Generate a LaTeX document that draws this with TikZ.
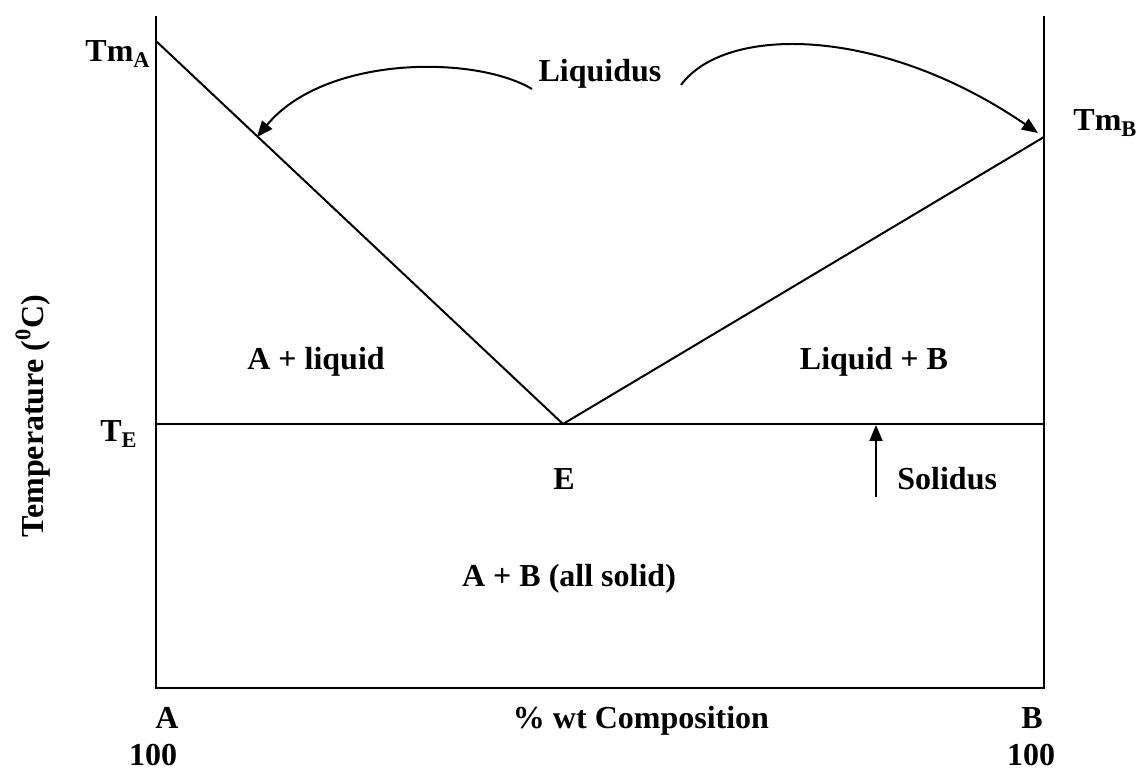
\documentclass[tikz,border=0pt]{standalone}
\usepackage{fontspec}
\setmainfont{Liberation Serif}
\usetikzlibrary{arrows.meta}
\begin{document}
\begin{tikzpicture}[x=0.5pt,y=-0.5pt,
  axisline/.style={line width=1pt},
  phaseline/.style={line width=1pt},
  pointer/.style={line width=1pt,-{Triangle[length=8pt,width=6.5pt]}},
  lbl/.style={inner sep=0pt,font=\fontsize{16}{19}\selectfont\bfseries}]
\useasboundingbox (0,0) rectangle (1137,770);
% frame corners
\coordinate (TL) at (156,16);
\coordinate (BL) at (156,688);
\coordinate (BR) at (1044,688);
\coordinate (TR) at (1044,16);
\coordinate (TmA) at (156,41);
\coordinate (TmB) at (1044,137);
\coordinate (Eu) at (563,424);
\coordinate (TEl) at (156,424);
\coordinate (TEr) at (1044,424);
% axes
\draw[axisline] (TL) -- (BL) -- (BR) -- (TR);
% liquidus and solidus lines
\draw[phaseline] (TmA) -- (Eu) -- (TmB);
\draw[phaseline] (TEl) -- (TEr);
% labels
\node[lbl,anchor=base east] (lTmA) at (151,62) {Tm\textsubscript{A}};
\node[lbl,anchor=base] (lLiq) at (600,82) {Liquidus};
\node[lbl,anchor=base west] (lTmB) at (1073,131) {Tm\textsubscript{B}};
\node[lbl,anchor=base east] (lTE) at (138,442) {T\textsubscript{E}};
\node[lbl,anchor=base] (lAL) at (316,370) {A + liquid};
\node[lbl,anchor=base] (lLB) at (874,370) {Liquid + B};
\node[lbl,anchor=base] (lE) at (564,490) {E};
\node[lbl,anchor=base west] (lSol) at (897,490) {Solidus};
\node[lbl,anchor=base] (lAB) at (569,587) {A + B (all solid)};
\node[lbl,anchor=base] (lA) at (167,728) {A};
\node[lbl,anchor=base] (lComp) at (641,728) {\% wt Composition};
\node[lbl,anchor=base] (lB) at (1032,728) {B};
\node[lbl,anchor=base] (l100a) at (153,765) {100};
\node[lbl,anchor=base] (l100b) at (1031,765) {100};
\node[lbl,anchor=base,rotate=90] (lTemp) at (43,416) {Temperature (\textsuperscript{0}C)};
% pointer arrows
\coordinate (arcLs) at (532,89);
\coordinate (arcLe) at (257,137);
\coordinate (arcRs) at (681,85);
\coordinate (arcRe) at (1038,133);
\coordinate (solS) at (876,497);
\coordinate (solE) at (876,425);
\draw[pointer] (arcLs) .. controls (475,55) and (325,55) .. (arcLe);
\draw[pointer] (arcRs) .. controls (725,25) and (880,25) .. (arcRe);
\draw[pointer] (solS) -- (solE);
\end{tikzpicture}
\end{document}
